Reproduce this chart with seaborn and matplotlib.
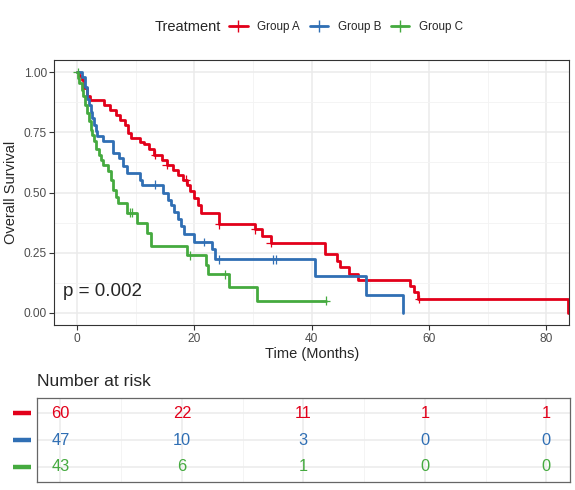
import matplotlib
matplotlib.use("Agg")
import matplotlib.pyplot as plt
import matplotlib.transforms as mtransforms
from matplotlib.lines import Line2D
from matplotlib.ticker import MultipleLocator, FormatStrFormatter
import numpy as np
import pandas as pd
import seaborn as sns

sns.set_style("white")
plt.rcParams["font.family"] = ["Liberation Sans", "DejaVu Sans"]

GROUPS = ["Group A", "Group B", "Group C"]
COLORS = ["#E2001A", "#306FB4", "#45AA3F"]

# Kaplan-Meier step points (time in months, survival)
A_TIME = [0, 0.4, 0.8, 1.2, 1.7, 2.2, 4.6, 5.6, 6.6, 7.3, 8.1, 8.7, 9.2, 10.8,
          11.5, 12.3, 13.2, 14.5, 15.3, 16.3, 17.2, 18.0, 18.8, 19.3, 19.9,
          20.6, 21.1, 24.2, 30.4, 31.6, 33.0, 42.3, 44.3, 44.9, 46.4, 47.9,
          56.8, 57.5, 58.2, 83.8]
A_SURV = [1.0, 0.983, 0.967, 0.933, 0.90, 0.884, 0.864, 0.843, 0.822, 0.80,
          0.78, 0.747, 0.726, 0.71, 0.70, 0.68, 0.657, 0.636, 0.616, 0.595,
          0.574, 0.554, 0.533, 0.506, 0.478, 0.447, 0.413, 0.368, 0.347, 0.32,
          0.292, 0.244, 0.216, 0.189, 0.161, 0.136, 0.113, 0.085, 0.058, 0.0]
A_CENS = [13.3, 15.3, 18.6, 24.2, 30.4, 33.0, 58.3]

B_TIME = [0, 0.9, 1.4, 1.7, 2.0, 2.4, 2.6, 2.9, 3.2, 3.4, 4.5, 6.2, 7.1, 7.9,
          8.5, 10.8, 11.1, 14.6, 15.5, 16.1, 16.6, 17.2, 17.7, 18.2, 20.0,
          23.0, 23.6, 40.5, 49.2, 55.6]
B_SURV = [1.0, 0.979, 0.94, 0.89, 0.864, 0.836, 0.81, 0.78, 0.754, 0.733,
          0.714, 0.664, 0.643, 0.61, 0.58, 0.553, 0.533, 0.50, 0.47, 0.447,
          0.42, 0.39, 0.36, 0.326, 0.295, 0.264, 0.223, 0.152, 0.076, 0.0]
B_CENS = [13.3, 21.6, 24.2, 33.5, 34.0]

C_TIME = [0, 0.2, 0.4, 0.8, 1.1, 1.4, 1.7, 2.0, 2.3, 2.6, 2.9, 3.3, 3.7, 4.1,
          4.4, 5.2, 5.8, 6.2, 6.6, 7.0, 8.6, 10.3, 12.0, 12.6, 18.7, 22.0,
          22.3, 25.9, 30.7, 42.4]
C_SURV = [1.0, 0.977, 0.953, 0.925, 0.90, 0.864, 0.83, 0.795, 0.76, 0.74,
          0.714, 0.68, 0.657, 0.636, 0.616, 0.588, 0.55, 0.51, 0.48, 0.457,
          0.416, 0.374, 0.333, 0.278, 0.24, 0.20, 0.161, 0.106, 0.051, 0.051]
C_CENS = [0.1, 9.1, 9.4, 19.3, 25.3, 42.4]

RISK_TIMES = [0, 20, 40, 60, 80]
A_RISK = [60, 22, 11, 1, 1]
B_RISK = [47, 10, 3, 0, 0]
C_RISK = [43, 6, 1, 0, 0]

P_TEXT = "p = 0.002"
XLIM = (-3.86, 83.9)


def build_frames():
    curves, cens = [], []
    for g, t, s, c in zip(GROUPS, [A_TIME, B_TIME, C_TIME],
                          [A_SURV, B_SURV, C_SURV], [A_CENS, B_CENS, C_CENS]):
        curves.append(pd.DataFrame({"group": g, "time": t, "surv": s}))
        t_arr, s_arr = np.array(t), np.array(s)
        idx = np.searchsorted(t_arr, c, side="right") - 1
        cens.append(pd.DataFrame({"group": g, "time": c, "surv": s_arr[idx]}))
    return pd.concat(curves, ignore_index=True), pd.concat(cens, ignore_index=True)


def style_grid(ax, ymajor, yminor):
    ax.xaxis.set_major_locator(MultipleLocator(20))
    ax.xaxis.set_minor_locator(MultipleLocator(10))
    if ymajor:
        ax.yaxis.set_major_locator(MultipleLocator(ymajor))
        ax.yaxis.set_minor_locator(MultipleLocator(yminor))
    ax.grid(which="major", color="#EBEBEB", lw=1.1)
    ax.grid(which="minor", color="#F3F3F3", lw=0.6)
    ax.set_axisbelow(True)
    ax.tick_params(which="minor", length=0)


def main():
    curve_df, cens_df = build_frames()
    palette = dict(zip(GROUPS, COLORS))

    fig = plt.figure(figsize=(5.75, 4.9), dpi=100)
    ax = fig.add_axes([0.0946, 0.3367, 0.895, 0.5408])

    sns.lineplot(data=curve_df, x="time", y="surv", hue="group", palette=palette,
                 drawstyle="steps-post", estimator=None, sort=False, lw=2.0,
                 legend=False, ax=ax)
    sns.scatterplot(data=cens_df, x="time", y="surv", hue="group", palette=palette,
                    marker="+", s=40, linewidth=0.9, legend=False, ax=ax)

    ax.set_xlim(*XLIM)
    ax.set_ylim(-0.05, 1.05)
    style_grid(ax, 0.25, 0.125)
    ax.yaxis.set_major_formatter(FormatStrFormatter("%.2f"))
    ax.tick_params(which="major", direction="out", length=3.5, width=0.8,
                   color="#333333", labelcolor="#4D4D4D", labelsize=8.6, pad=2,
                   left=True, bottom=True)
    for sp in ax.spines.values():
        sp.set_color("#333333")
        sp.set_linewidth(0.8)
    ax.set_xlabel("Time (Months)", fontsize=10.5, labelpad=2)
    ax.set_ylabel("Overall Survival", fontsize=10.5, labelpad=4)
    ax.text(-2.4, 0.09, P_TEXT, fontsize=13.5, ha="left", va="center")

    # legend on top
    handles = [Line2D([], [], color=c, lw=2.0, marker="+", markersize=8,
                      markeredgewidth=1.0) for c in COLORS]
    fig.text(155 / 575, 0.944, "Treatment", fontsize=10.5, va="center", ha="left")
    fig.legend(handles, GROUPS, loc="center left", bbox_to_anchor=(0.398, 0.944),
               ncol=3, frameon=False, fontsize=8.4, handlelength=1.6,
               handletextpad=0.8, columnspacing=0.85, borderpad=0,
               borderaxespad=0)

    # risk table
    fig.text(37 / 575, 1 - 381.5 / 490, "Number at risk", fontsize=12.6,
             ha="left", va="center")
    tab = fig.add_axes([0.0643, 0.0169, 0.927, 0.1702])
    tab.set_xlim(*XLIM)
    tab.set_ylim(0.44, 3.56)
    style_grid(tab, None, None)
    tab.set_yticks([1, 2, 3])
    tab.tick_params(which="both", length=0, labelleft=False, labelbottom=False)
    for sp in tab.spines.values():
        sp.set_color("#666666")
        sp.set_linewidth(0.9)

    trans = mtransforms.blended_transform_factory(fig.transFigure, tab.transData)
    rows = [3, 2, 1]
    for row, color, risk in zip(rows, COLORS, [A_RISK, B_RISK, C_RISK]):
        for t, n in zip(RISK_TIMES, risk):
            tab.text(t, row, str(n), color=color, fontsize=11.8,
                     ha="center", va="center")
        tab.plot([12.7 / 575, 31 / 575], [row, row], color=color, lw=3.2,
                 transform=trans, clip_on=False, solid_capstyle="butt")

    fig.savefig("out.png", dpi=100)


if __name__ == "__main__":
    main()
